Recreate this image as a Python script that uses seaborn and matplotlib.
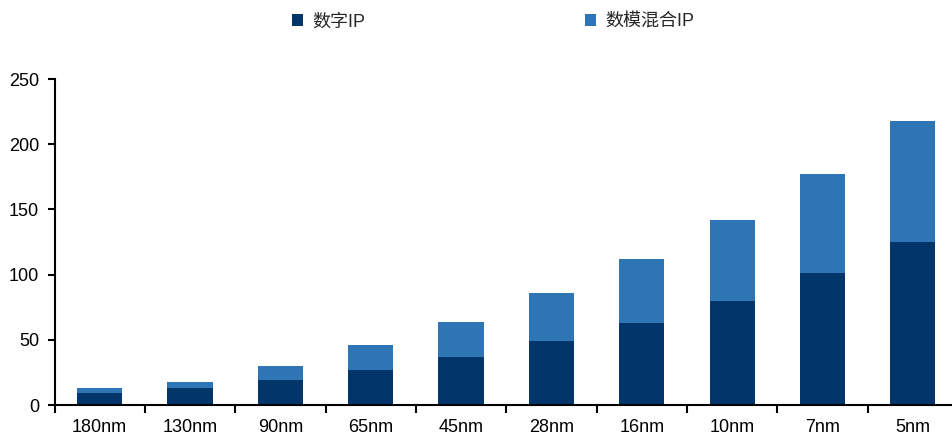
import numpy as np
import pandas as pd
import matplotlib
matplotlib.use("Agg")
import matplotlib.pyplot as plt
from matplotlib.patches import Patch
from matplotlib.ticker import FixedLocator
import seaborn as sns

# Process nodes and IP counts per node
nodes = ["180nm", "130nm", "90nm", "65nm", "45nm", "28nm", "16nm", "10nm", "7nm", "5nm"]
digital_ip = [9, 13, 19, 27, 37, 49, 63, 80, 101, 125]
mixed_ip = [4, 5, 11, 19, 27, 37, 49, 62, 76, 93]
y_ticks = [0, 50, 100, 150, 200, 250]

series_names = ["数字IP", "数模混合IP"]
dark_blue = "#02356A"
light_blue = "#2E75B6"

df = pd.DataFrame({"node": nodes, "digital": digital_ip, "mixed": mixed_ip})
df["total"] = df["digital"] + df["mixed"]

sns.set_theme(style="ticks")
plt.rcParams["font.family"] = ["Liberation Sans", "Noto Sans CJK SC", "DejaVu Sans"]

fig = plt.figure(figsize=(9.52, 4.37), dpi=100)
W, H = 952, 437
left_px, right_px, top_px, bottom_px = 54.5, 958, 79, 405
ax = fig.add_axes([left_px / W, (H - bottom_px) / H,
                   (right_px - left_px) / W, (bottom_px - top_px) / H])

# Stacked bars: full height in light blue, digital part overlaid in dark blue
sns.barplot(data=df, x="node", y="total", color=light_blue, saturation=1,
            width=0.5, linewidth=0, ax=ax)
sns.barplot(data=df, x="node", y="digital", color=dark_blue, saturation=1,
            width=0.5, linewidth=0, ax=ax)

ax.set_xlim(-0.5, len(nodes) - 0.5)
ax.set_ylim(0, 250)
ax.set_xlabel("")
ax.set_ylabel("")

ax.set_yticks(y_ticks)
ax.tick_params(axis="y", direction="out", length=5, width=1.5, color="black",
               labelsize=13, pad=6, labelcolor="black")

ax.set_xticks(range(len(nodes)))
ax.set_xticklabels(nodes)
ax.xaxis.set_minor_locator(FixedLocator(np.arange(-0.5, len(nodes), 1.0)))
ax.tick_params(axis="x", which="major", length=0, labelsize=13, pad=10,
               labelcolor="black")
ax.tick_params(axis="x", which="minor", direction="out", length=6, width=1.5,
               color="black")

for side in ["top", "right"]:
    ax.spines[side].set_visible(False)
for side in ["left", "bottom"]:
    ax.spines[side].set_color("black")
    ax.spines[side].set_linewidth(1.5)

handles = [Patch(facecolor=dark_blue, edgecolor="none"),
           Patch(facecolor=light_blue, edgecolor="none")]
fig.legend(handles, series_names, loc="center left",
           bbox_to_anchor=(291.7 / W, 1 - 22 / H), ncol=2, frameon=False,
           fontsize=13, handlelength=0.62, handleheight=0.62,
           handletextpad=0.5, columnspacing=12.2, borderpad=0,
           borderaxespad=0)

fig.savefig("out.png", dpi=100)
